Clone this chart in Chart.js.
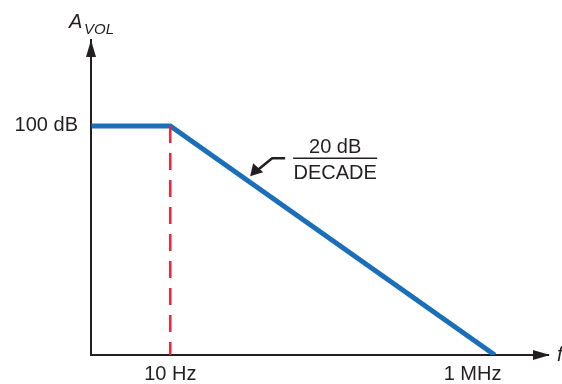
<!DOCTYPE html>
<html>
<head>
<meta charset="utf-8">
<script src="https://cdn.jsdelivr.net/npm/chart.js@4/dist/chart.umd.min.js"></script>
<style>
  html, body { margin: 0; padding: 0; background: #fff; }
  #wrap { width: 562px; height: 384px; }
</style>
</head>
<body>
<div id="wrap"><canvas id="bode"></canvas></div>
<script>
// frequency in Hz, gain in dB
var freqs = [0.61, 10, 1e6];
var gains = [100, 100, 0];
var cornerFreq = [10, 10];
var cornerGain = [100, 0];
var xTicks = [10, 1e6];
var xTickLabels = ["10 Hz", "1 MHz        "];
var yTicks = [100];
var yTickLabels = ["100 dB"];

var FONT = "'Liberation Sans', Arial, sans-serif";
var INK = "#231f20";

function toPoints(xs, ys) {
    var pts = [];
    for (var i = 0; i < xs.length; i++) pts.push({ x: xs[i], y: ys[i] });
    return pts;
}

var extras = {
    id: "extras",
    afterDraw: function (chart) {
        var ctx = chart.ctx;
        var a = chart.chartArea;
        var xs = chart.scales.x, ys = chart.scales.y;
        ctx.save();
        ctx.fillStyle = INK;
        // y axis arrowhead
        ctx.beginPath();
        ctx.moveTo(a.left, a.top);
        ctx.lineTo(a.left - 5, a.top + 17);
        ctx.lineTo(a.left + 5, a.top + 17);
        ctx.closePath();
        ctx.fill();
        // x axis arrowhead
        ctx.beginPath();
        ctx.moveTo(a.right + 2, a.bottom);
        ctx.lineTo(a.right - 15, a.bottom - 5);
        ctx.lineTo(a.right - 15, a.bottom + 5);
        ctx.closePath();
        ctx.fill();

        // axis titles
        ctx.textBaseline = "alphabetic";
        ctx.textAlign = "left";
        ctx.font = "italic 20px " + FONT;
        ctx.fillText("A", a.left - 22, 28);
        ctx.font = "italic 15px " + FONT;
        ctx.fillText("VOL", a.left - 7, 34);
        ctx.font = "italic 20px " + FONT;
        ctx.textBaseline = "middle";
        ctx.fillText("f", a.right + 9, a.bottom);

        // slope annotation
        var tipX = xs.getPixelForValue(170);
        var tipY = ys.getPixelForValue(75.4) - 6;
        var barY = tipY - 18;
        ctx.strokeStyle = INK;
        ctx.lineWidth = 2.5;
        ctx.beginPath();
        ctx.moveTo(tipX + 35, barY);
        ctx.lineTo(tipX + 22, barY);
        ctx.lineTo(tipX + 6, tipY - 5);
        ctx.stroke();
        ctx.beginPath();
        ctx.moveTo(tipX, tipY);
        ctx.lineTo(tipX + 3, tipY - 13);
        ctx.lineTo(tipX + 13, tipY - 4);
        ctx.closePath();
        ctx.fill();

        var cx = tipX + 85;
        ctx.lineWidth = 1.5;
        ctx.beginPath();
        ctx.moveTo(cx - 42, barY);
        ctx.lineTo(cx + 42, barY);
        ctx.stroke();
        ctx.font = "20px " + FONT;
        ctx.textAlign = "center";
        ctx.textBaseline = "alphabetic";
        ctx.fillText("20 dB", cx, barY - 5);
        ctx.fillText("DECADE", cx, barY + 21);
        ctx.restore();
    }
};

var chart = new Chart(document.getElementById("bode"), {
    type: "line",
    data: {
        datasets: [
            {
                data: toPoints(cornerFreq, cornerGain),
                borderColor: "#ee2436",
                borderWidth: 2.5,
                borderDash: [17, 10],
                pointRadius: 0,
                fill: false,
            },
            {
                data: toPoints(freqs, gains),
                borderColor: "#1b6fb9",
                borderWidth: 5,
                borderCapStyle: "butt",
                borderJoinStyle: "miter",
                pointRadius: 0,
                fill: false,
            },
        ],
    },
    options: {
        responsive: true,
        maintainAspectRatio: false,
        animation: false,
        layout: {
            padding: { top: 40, right: 14, left: 0, bottom: 0 },
        },
        plugins: {
            legend: { display: false },
            tooltip: { enabled: false },
        },
        scales: {
            x: {
                type: "logarithmic",
                min: 0.61,
                max: 10 ** 6.82,
                afterBuildTicks: function (scale) {
                    scale.ticks = xTicks.map(function (v) { return { value: v }; });
                },
                afterFit: function (scale) { scale.height = 29; },
                ticks: {
                    autoSkip: false,
                    maxRotation: 0,
                    padding: 7,
                    color: INK,
                    font: { family: FONT, size: 20 },
                    callback: function (value) {
                        return xTickLabels[xTicks.indexOf(value)];
                    },
                },
                grid: { display: false, drawTicks: false },
                border: { display: true, color: INK, width: 2 },
            },
            y: {
                type: "linear",
                min: 0,
                max: 137.5,
                afterBuildTicks: function (scale) {
                    scale.ticks = yTicks.map(function (v) { return { value: v }; });
                },
                afterFit: function (scale) { scale.width = 91; },
                ticks: {
                    padding: 13,
                    color: INK,
                    font: { family: FONT, size: 20 },
                    callback: function (value) {
                        return yTickLabels[yTicks.indexOf(value)];
                    },
                },
                grid: { display: false, drawTicks: false },
                border: { display: true, color: INK, width: 2 },
            },
        },
    },
    plugins: [extras],
});
</script>
</body>
</html>
